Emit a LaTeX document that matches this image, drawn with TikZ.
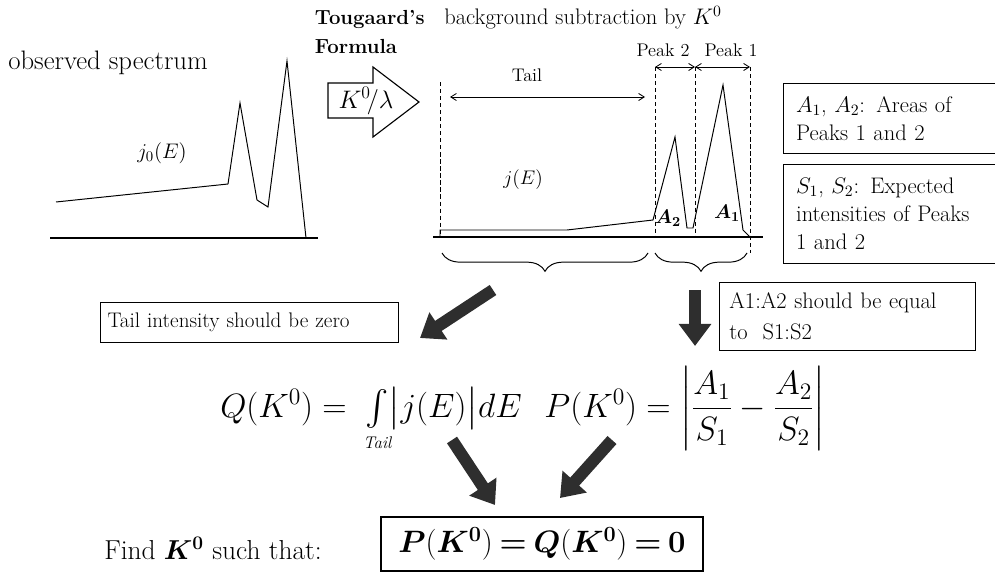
\RequirePackage{fix-cm}
\documentclass[tikz,border=0pt]{standalone}
\usepackage{amsmath}
\usepackage{bm}
\usetikzlibrary{
    arrows.meta,               % For arrow tips
    decorations.pathreplacing, % For the braces under the spectrum
    positioning                % For label positioning
}

\begin{document}
\begin{tikzpicture}[
    x=0.025cm, y=-0.025cm, % one unit = one pixel of the sketch, y runs downwards
    >={Straight Barb[length=4pt, width=5pt]}, % Set default arrow tip style
    axis_line/.style={line width=1.5pt},        % Energy axis under a spectrum
    spec_line/.style={line width=0.7pt},        % Spectrum curves
    cut_line/.style={line width=0.6pt, dash pattern=on 3pt off 2pt}, % Region limits
    width_arrow/.style={<->, line width=0.6pt}, % Widths of tail and peaks
    under_brace/.style={decorate, decoration={brace, mirror, amplitude=13pt}, line width=0.7pt},
    big_arrow/.style={line width=0.3cm, draw=black!82,
        -{Triangle[length=0.55cm, width=0.78cm]}}, % Fat arrows of the scheme
    note_box/.style={draw, line width=0.7pt, align=left, anchor=north west}, % Framed remarks
    small_lbl/.style={font=\fontsize{13}{15}\selectfont}
]

    \useasboundingbox (0,0) rectangle (995,572);

    % Curves as point lists (pixels of the sketch)
    \def\obsSpec{(56,202) (228,184) (240,103) (257,200) (268,207) (287,61) (306,238)}
    \def\subSpec{(440,237) (440,230) (567,230) (653,220) (675,137) (687,228) (693,228) (723,85) (743,230) (750,237)}

    % --- Observed spectrum ---
    \node[font=\fontsize{19}{22}\selectfont] (obs) at (108,63) {observed spectrum};
    \draw[axis_line] (50,238) -- (318,238);
    \draw[spec_line] plot coordinates {\obsSpec};
    \node[font=\fontsize{15}{18}\selectfont] (jzero) at (162,153) {$j_0(E)$};

    % --- Tougaard's formula (hollow arrow) ---
    \node[font=\bfseries\fontsize{14.5}{21}\selectfont, align=left, anchor=west] (toug) at (310,32) {Tougaard's\\Formula};
    \draw[line width=0.8pt] (328,83) -- (373,83) -- (373,67) -- (419,102)
        -- (373,137) -- (373,118) -- (328,118) -- cycle;
    \node[font=\fontsize{18}{20}\selectfont] (klam) at (366,101) {$K^{0}\!/\lambda$};

    % --- Background subtracted spectrum ---
    \node[font=\fontsize{16}{19}\selectfont] (bsub) at (583,18) {background subtraction by $K^{0}$};
    \draw[axis_line] (433,237) -- (763,237);
    \coordinate (d1) at (440,82);
    \coordinate (d2) at (655,67);
    \coordinate (d3) at (695,67);
    \coordinate (d4) at (750,67);
    \draw[cut_line] (d1) -- ++(0,155);
    \draw[cut_line] (d2) -- ++(0,170);
    \draw[cut_line] (d3) -- ++(0,170);
    \draw[cut_line] (d4) -- ++(0,186);

    \coordinate (tl) at (450,97);
    \coordinate (tr) at (645,97);
    \draw[width_arrow] (tl) -- (tr);
    \draw[width_arrow] (d2) -- (d3);
    \draw[width_arrow] (d3) -- (d4);
    \node[small_lbl] (tail) at (527,75) {Tail};
    \node[small_lbl] (pk2) at (663,50) {Peak 2};
    \node[small_lbl] (pk1) at (731,50) {Peak 1};

    \draw[spec_line] plot coordinates {\subSpec};
    \node[font=\fontsize{14}{16}\selectfont] (jE) at (523,180) {$j(E)$};
    \node[font=\fontsize{14}{16}\selectfont] (atwo) at (668,218) {$\bm{A_2}$};
    \node[font=\fontsize{14}{16}\selectfont] (aone) at (727,213) {$\bm{A_1}$};

    % Braces under tail and peaks
    \draw[under_brace] (442,253) -- (648,253);
    \draw[under_brace] (655,253) -- (747,253);

    % --- Remarks ---
    \node[note_box, inner xsep=9pt, text width=4.8cm, minimum height=1.75cm, font=\fontsize{16}{20}\selectfont]
        (areas) at (783,83) {$A_1$, $A_2$: Areas of\\Peaks 1 and 2};
    \node[note_box, inner xsep=9pt, text width=4.8cm, minimum height=2.475cm, font=\fontsize{16}{20}\selectfont]
        (expect) at (783,164) {$S_1$, $S_2$: Expected\\intensities of Peaks\\1 and 2};
    \node[note_box, inner xsep=5pt, text width=7.1cm, minimum height=1cm, font=\fontsize{15}{18}\selectfont]
        (tailnote) at (100,302) {Tail intensity should be zero};
    \node[note_box, inner xsep=7pt, text width=5.9cm, minimum height=1.7cm, font=\fontsize{16}{22}\selectfont]
        (ratio) at (719,282) {A1:A2 should be equal\\to\ \ S1:S2};

    % --- Conditions ---
    \node[font=\fontsize{24}{28}\selectfont, anchor=base] (qform) at (371,417)
        {$Q(K^{0}) = \;\mathop{\vcenter{\hbox{\fontsize{36}{40}\selectfont$\int$}}}\limits_{\makebox[0pt]{\fontsize{12}{14}\selectfont\itshape Tail}}\bigl|j(E)\bigr|dE$};
    \node[font=\fontsize{24}{28}\selectfont, anchor=base] (pform) at (685,417)
        {$P(K^{0}) = \left|\dfrac{A_1}{S_1} - \dfrac{A_2}{S_2}\right|$};

    % --- Result ---
    \node[font=\fontsize{19.5}{23}\selectfont] (find) at (213,548) {Find $\bm{K}^{\mathbf{0}}$ such that:};
    \node[draw, line width=1.4pt, anchor=north west, minimum width=8.05cm, minimum height=1.35cm,
        font=\fontsize{22}{26}\selectfont] (final) at (380,516)
        {$\bm{P}(\bm{K}^{\mathbf{0}}) \mathbin{\bm{=}} \bm{Q}(\bm{K}^{\mathbf{0}}) \mathbin{\bm{=}} \mathbf{0}$};

    % --- Fat arrows ---
    \coordinate (a1s) at (493,290);
    \coordinate (a1e) at (420,338);
    \coordinate (a2s) at (695,290);
    \coordinate (a2e) at (695,346);
    \coordinate (a3s) at (452,440);
    \coordinate (a3e) at (495,505);
    \coordinate (a4s) at (612,440);
    \coordinate (a4e) at (560,498);
    \draw[big_arrow] (a1s) -- (a1e);
    \draw[big_arrow] (a2s) -- (a2e);
    \draw[big_arrow] (a3s) -- (a3e);
    \draw[big_arrow] (a4s) -- (a4e);

\end{tikzpicture}
\end{document}
